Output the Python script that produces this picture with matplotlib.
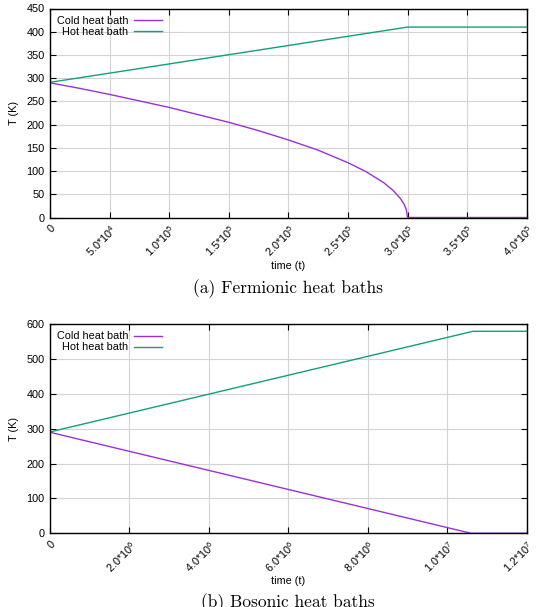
import matplotlib
matplotlib.use("Agg")
import matplotlib.pyplot as plt
from matplotlib.ticker import FixedLocator

plt.rcParams['font.family'] = ['Liberation Sans', 'DejaVu Sans']
plt.rcParams['mathtext.fontset'] = 'custom'
plt.rcParams['mathtext.rm'] = 'Liberation Sans'
plt.rcParams['mathtext.it'] = 'Liberation Sans'

# ---- data: fermionic ----
ferm_cold_t = [0, 2.5e4, 5e4, 7.5e4, 1e5, 1.25e5, 1.5e5, 1.75e5, 2e5, 2.25e5, 2.5e5,
               2.65e5, 2.8e5, 2.88e5, 2.94e5, 2.97e5, 2.99e5, 3.0e5, 4.0e5]
ferm_cold_T = [290, 278, 265, 251, 237, 221, 205, 187, 167, 145, 118,
               99, 75, 58, 41, 29, 17, 0, 0]
ferm_hot_t = [0, 3.0e5, 4.0e5]
ferm_hot_T = [291, 410, 410]

# ---- data: bosonic ----
bos_cold_t = [0, 1.06e7, 1.2e7]
bos_cold_T = [290, 0, 0]
bos_hot_t = [0, 1.065e7, 1.2e7]
bos_hot_T = [291, 580, 580]

ferm_xticks = [0, 5e4, 1e5, 1.5e5, 2e5, 2.5e5, 3e5, 3.5e5, 4e5]
ferm_xlabels = ['0', '5.0*10$^{4}$', '1.0*10$^{5}$', '1.5*10$^{5}$', '2.0*10$^{5}$',
                '2.5*10$^{5}$', '3.0*10$^{5}$', '3.5*10$^{5}$', '4.0*10$^{5}$']
ferm_yticks = [0, 50, 100, 150, 200, 250, 300, 350, 400, 450]

bos_xticks = [0, 2e6, 4e6, 6e6, 8e6, 1e7, 1.2e7]
bos_xlabels = ['0', '2.0*10$^{6}$', '4.0*10$^{6}$', '6.0*10$^{6}$', '8.0*10$^{6}$',
               '1.0*10$^{7}$', '1.2*10$^{7}$']
bos_yticks = [0, 100, 200, 300, 400, 500, 600]

COLD = '#9B2FDB'
HOT = '#12A07A'
FS = 7.8

W, H = 536, 607
fig = plt.figure(figsize=(W / 100, H / 100), dpi=100)


def make_axes(rect, cold_t, cold_T, hot_t, hot_T, xt, xl, yt, xmax, ymax, caption, cap_y):
    ax = fig.add_axes(rect)
    ax.plot(cold_t, cold_T, color=COLD, lw=1.0, label='Cold heat bath')
    ax.plot(hot_t, hot_T, color=HOT, lw=1.0, label='Hot heat bath')
    ax.set_xlim(0, xmax)
    ax.set_ylim(0, ymax)
    ax.xaxis.set_major_locator(FixedLocator(xt))
    ax.set_xticklabels(xl, rotation=45, ha='right', va='top', rotation_mode='anchor')
    ax.set_yticks(yt)
    ax.tick_params(direction='in', length=4, width=0.8, labelsize=FS,
                   top=True, right=True, pad=4)
    ax.tick_params(axis='x', pad=4)
    ax.grid(True, color='#d3d3d3', lw=0.8)
    ax.set_axisbelow(True)
    for s in ax.spines.values():
        s.set_linewidth(1.0)
    ax.set_xlabel('time (t)', fontsize=FS, labelpad=1)
    ax.set_ylabel('T (K)', fontsize=FS, labelpad=5)
    leg = ax.legend(loc='upper left', frameon=False, markerfirst=False, fontsize=FS,
                    handlelength=2.6, handletextpad=0.5, labelspacing=0.1,
                    borderaxespad=0.25, bbox_to_anchor=(0.0, 1.0))
    for t in leg.get_texts():
        t.set_ha('right')
    leg._legend_box.align = 'right'
    fig.text(rect[0] + rect[2] / 2, cap_y, caption, ha='center', va='center',
             fontsize=12.5, family='cmr10')
    return ax


make_axes([50 / W, 1 - 217.5 / H, 476.7 / W, 209 / H],
          ferm_cold_t, ferm_cold_T, ferm_hot_t, ferm_hot_T,
          ferm_xticks, ferm_xlabels, ferm_yticks, 4e5, 450,
          '(a) Fermionic heat baths', 1 - 289 / H)

make_axes([50 / W, 1 - 533.3 / H, 476.7 / W, 209 / H],
          bos_cold_t, bos_cold_T, bos_hot_t, bos_hot_T,
          bos_xticks, bos_xlabels, bos_yticks, 1.2e7, 600,
          '(b) Bosonic heat baths', 1 - 603 / H)

fig.savefig('out.png', dpi=100)
